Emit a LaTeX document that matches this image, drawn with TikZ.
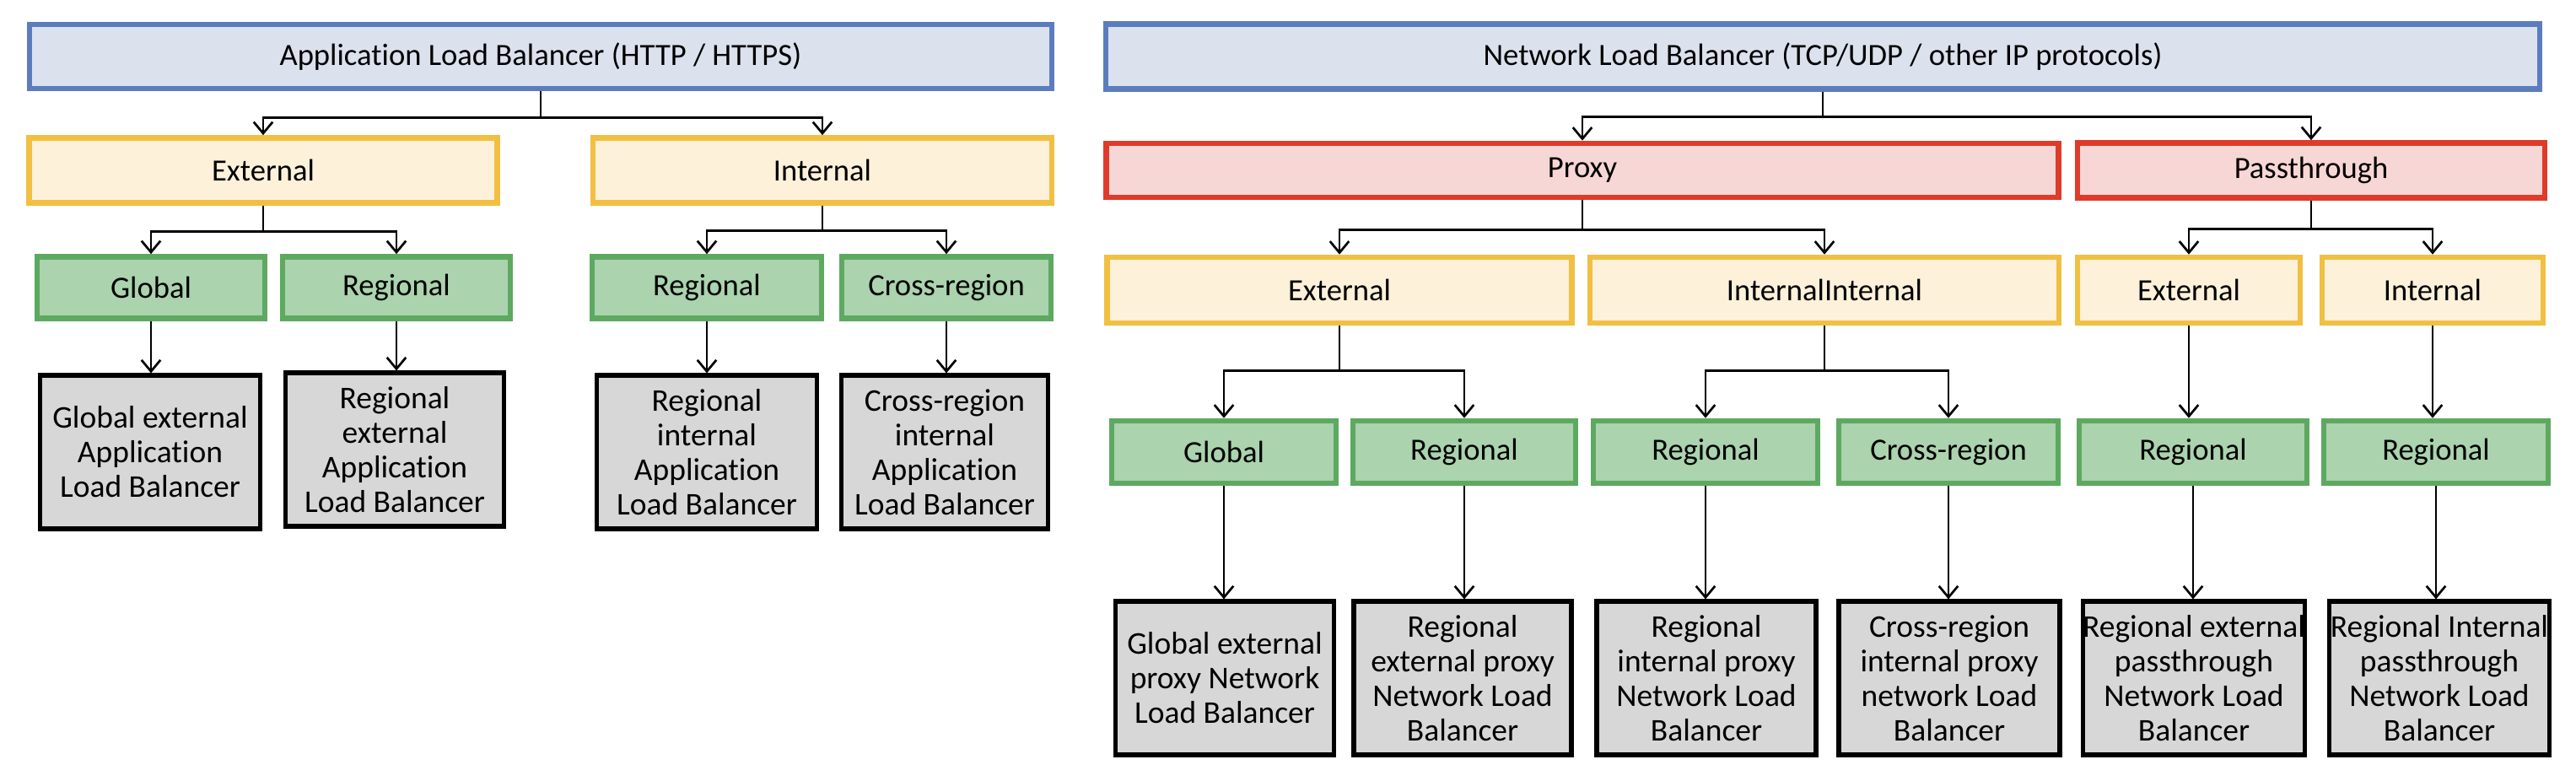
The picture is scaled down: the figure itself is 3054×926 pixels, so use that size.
\documentclass[tikz,border=0pt]{standalone}
\usepackage{fontspec}
\setmainfont{Carlito}[Ligatures=NoCommon]
\usetikzlibrary{arrows.meta}

\definecolor{albline}{HTML}{5B7DBE}
\definecolor{albfill}{HTML}{DCE1EE}
\definecolor{extline}{HTML}{F1BF42}
\definecolor{extfill}{HTML}{FDF1DA}
\definecolor{pxline}{HTML}{DF3B2A}
\definecolor{pxfill}{HTML}{F7D7D5}
\definecolor{regline}{HTML}{5DA960}
\definecolor{regfill}{HTML}{AAD3AE}
\definecolor{lbfill}{HTML}{D7D7D7}

\tikzset{
  sz/.style 2 args={minimum width=#1*0.3333pt, minimum height=#2*0.3333pt},
  topbox/.style={draw=albline, fill=albfill, line width=2.2pt, inner sep=0pt},
  sidebox/.style={draw=extline, fill=extfill, line width=2.2pt, inner sep=0pt},
  modebox/.style={draw=pxline, fill=pxfill, line width=2.2pt, inner sep=0pt},
  scopebox/.style={draw=regline, fill=regfill, line width=2.2pt, inner sep=0pt},
  lbbox/.style={draw=black, fill=lbfill, line width=1.7pt, inner sep=0pt, align=center, font=\fontsize{12.5}{13.7}\selectfont},
  arr/.style={-{Straight Barb[length=4.5pt,width=7.5pt]}, line width=0.9pt},
}

\begin{document}
\begin{tikzpicture}[x=0.3333pt, y=-0.3333pt, font=\fontsize{12.2}{14}\selectfont]
        \useasboundingbox (0,0) rectangle (3054,926);

        % Application Load Balancer
        \node[topbox, sz={1212}{76}] (alb) at (641,67) {Application Load Balancer (HTTP / HTTPS)};

        \node[sidebox, sz={555}{77}] (lext) at (312,202) {External};
        \node[sidebox, sz={544}{77}] (lint) at (975,202) {Internal};

        \node[scopebox, sz={270}{73}] (lglob) at (179,341) {Global};
        \node[scopebox, sz={270}{73}] (lreg) at (470,341) {Regional};
        \node[scopebox, sz={272}{73}] (lireg) at (838,341) {Regional};
        \node[scopebox, sz={248}{73}] (lcross) at (1122,341) {Cross-region};

        \node[lbbox, sz={261}{182}] (lglobalb) at (178,536) {Global external\\Application\\Load Balancer};
        \node[lbbox, sz={259}{182}] (lregalb) at (468,533) {Regional\\external\\Application\\Load Balancer};
        \node[lbbox, sz={261}{182}] (lirealb) at (838,536) {Regional\\internal\\Application\\Load Balancer};
        \node[lbbox, sz={245}{182}] (lcrossalb) at (1120,536) {Cross-region\\internal\\Application\\Load Balancer};

        \draw[arr] (alb.south) -- ++(0,31) -| (lext.north);
        \draw[arr] (alb.south) -- ++(0,31) -| (lint.north);
        \draw[arr] (lext.south) -- ++(0,31) -| (lglob.north);
        \draw[arr] (lext.south) -- ++(0,31) -| (lreg.north);
        \draw[arr] (lint.south) -- ++(0,30) -| (lireg.north);
        \draw[arr] (lint.south) -- ++(0,30) -| (lcross.north);
        \draw[arr] (lglob.south) -- (lglob.south |- lglobalb.north);
        \draw[arr] (lreg.south) -- (lreg.south |- lregalb.north);
        \draw[arr] (lireg.south) -- (lireg.south |- lirealb.north);
        \draw[arr] (lcross.south) -- (lcross.south |- lcrossalb.north);

        % Network Load Balancer
        \node[topbox, sz={1700}{77}] (nlb) at (2161,67) {Network Load Balancer (TCP/UDP / other IP protocols)};

        \node[modebox, sz={1129}{64}] (proxy) at (1876,202) {Proxy};
        \node[modebox, sz={554}{65}] (pass) at (2740,202) {Passthrough};

        \node[sidebox, sz={551}{78}] (rext) at (1588,344) {External};
        \node[sidebox, sz={556}{78}] (rint) at (2163,344) {InternalInternal};
        \node[sidebox, sz={264}{78}] (pext) at (2595,344) {External};
        \node[sidebox, sz={262}{78}] (pint) at (2884,344) {Internal};

        \node[scopebox, sz={266}{74}] (rglob) at (1451,536) {Global};
        \node[scopebox, sz={264}{74}] (rreg) at (1736,536) {Regional};
        \node[scopebox, sz={266}{74}] (rireg) at (2022,536) {Regional};
        \node[scopebox, sz={260}{74}] (rcross) at (2310,536) {Cross-region};
        \node[scopebox, sz={270}{74}] (preg) at (2600,536) {Regional};
        \node[scopebox, sz={266}{74}] (pireg) at (2888,536) {Regional};

        \node[lbbox, sz={259}{182}] (rglobnlb) at (1452,804) {Global external\\proxy Network\\Load Balancer};
        \node[lbbox, sz={258}{182}] (rregnlb) at (1734,804) {Regional\\external proxy\\Network Load\\Balancer};
        \node[lbbox, sz={260}{182}] (rirenlb) at (2023,804) {Regional\\internal proxy\\Network Load\\Balancer};
        \node[lbbox, sz={262}{182}] (rcrossnlb) at (2311,804) {Cross-region\\internal proxy\\network Load\\Balancer};
        \node[lbbox, sz={259}{182}] (pregnlb) at (2601,804) {Regional external\\passthrough\\Network Load\\Balancer};
        \node[lbbox, sz={261}{182}] (pirenlb) at (2892,804) {Regional Internal\\passthrough\\Network Load\\Balancer};

        \draw[arr] (nlb.south) -- ++(0,30) -| (proxy.north);
        \draw[arr] (nlb.south) -- ++(0,30) -| (pass.north);
        \draw[arr] (proxy.south) -- ++(0,35) -| (rext.north);
        \draw[arr] (proxy.south) -- ++(0,35) -| (rint.north);
        \draw[arr] (pass.south) -- ++(0,34) -| (pext.north);
        \draw[arr] (pass.south) -- ++(0,34) -| (pint.north);
        \draw[arr] (rext.south) -- ++(0,53) -| (rglob.north);
        \draw[arr] (rext.south) -- ++(0,53) -| (rreg.north);
        \draw[arr] (rint.south) -- ++(0,53) -| (rireg.north);
        \draw[arr] (rint.south) -- ++(0,53) -| (rcross.north);
        \draw[arr] (pext.south) -- (pext.south |- preg.north);
        \draw[arr] (pint.south) -- (pint.south |- pireg.north);

        \draw[arr] (rglob.south) -- (rglob.south |- rglobnlb.north);
        \draw[arr] (rreg.south) -- (rreg.south |- rregnlb.north);
        \draw[arr] (rireg.south) -- (rireg.south |- rirenlb.north);
        \draw[arr] (rcross.south) -- (rcross.south |- rcrossnlb.north);
        \draw[arr] (preg.south) -- (preg.south |- pregnlb.north);
        \draw[arr] (pireg.south) -- (pireg.south |- pirenlb.north);
\end{tikzpicture}
\end{document}
